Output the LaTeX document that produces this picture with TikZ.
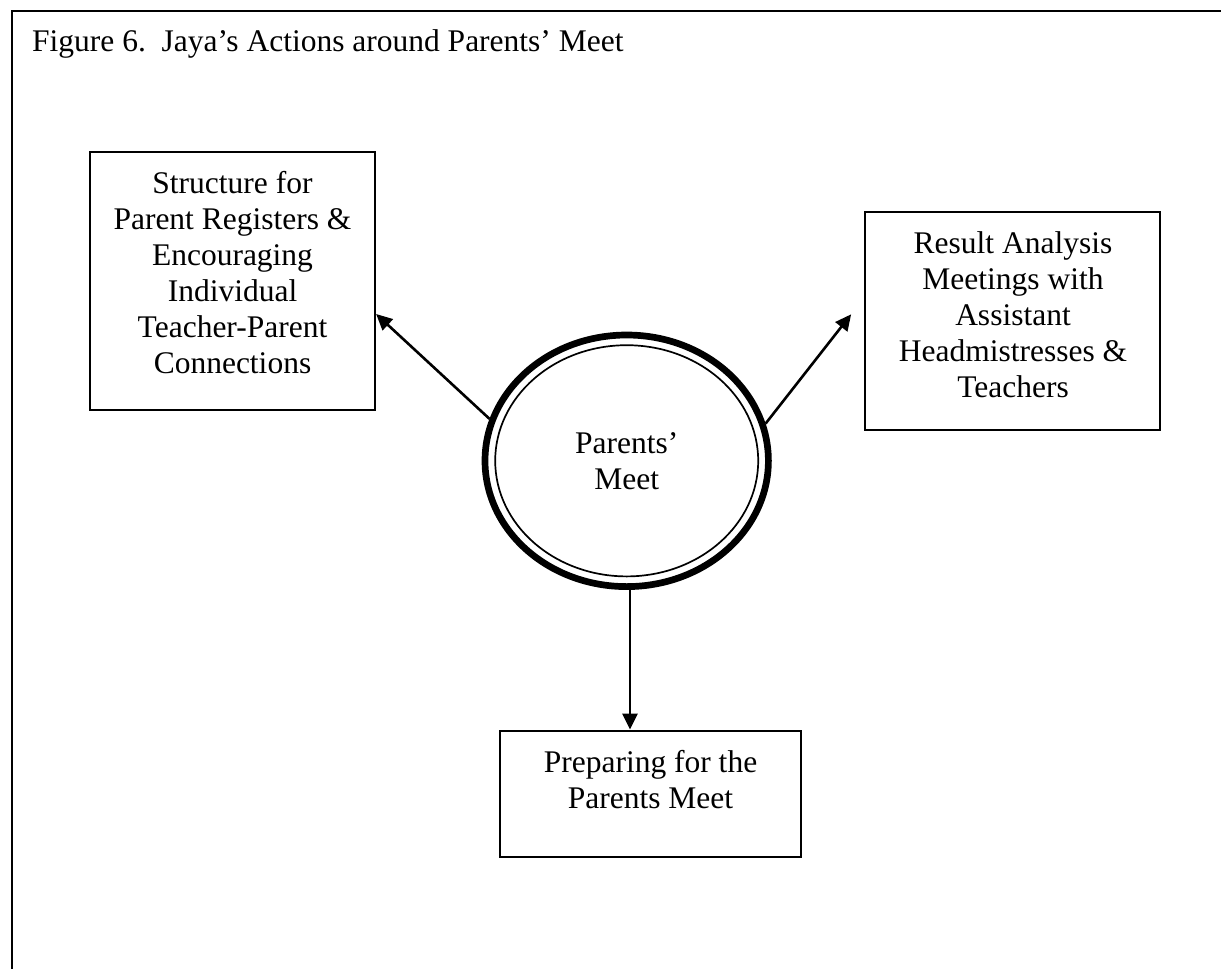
\documentclass[tikz,border=0pt]{standalone}
\usepackage{fontspec}
\setmainfont{Liberation Serif}
\usetikzlibrary{shapes.geometric,arrows.meta}
\begin{document}
\begin{tikzpicture}[x=1pt,y=-1pt,
  bodyfont/.style={font=\fontsize{31.5}{36}\selectfont},
  boxshape/.style={draw, rectangle, line width=2.2pt, inner sep=0pt},
  boxtext/.style={bodyfont, align=center, inner sep=0pt},
  link/.style={line width=2.6pt, -{Triangle[length=16pt,width=15pt]}},
]
% page and the open frame (top and left sides only)
\useasboundingbox[fill=white] (0,0) rectangle (1221,969);
\draw[line width=2.7pt] (12,990) -- (12,11) -- (1240,11);

% caption
\node[bodyfont, anchor=base west, inner sep=0pt] (title) at (32,51)
  {Figure 6.\ \ Jaya’s Actions around Parents’ Meet};

% central double-ringed ellipse
\node[draw, ellipse, line width=6.7pt, minimum width=283.4pt, minimum height=251.6pt,
      inner sep=0pt, bodyfont, align=center] (pm) at (626.7,460.8) {Parents’\\Meet};
\draw[line width=1.7pt] (pm.center) ellipse [x radius=131.5pt, y radius=115.6pt];

% left box
\node[boxshape, minimum width=285pt, minimum height=258pt] (lb) at (232.5,281) {};
\node[boxtext] (lbt) at (232.5,273)
  {Structure for\\Parent Registers \&\\Encouraging\\Individual\\Teacher-Parent\\Connections};

% right box
\node[boxshape, minimum width=295pt, minimum height=218pt] (rb) at (1012.5,321) {};
\node[boxtext] (rbt) at (1013,314.4)
  {Result Analysis\\Meetings with\\Assistant\\Headmistresses \&\\Teachers};

% bottom box
\node[boxshape, minimum width=301pt, minimum height=126pt] (pb) at (650.5,793.7) {};
\node[boxtext] (pbt) at (650.5,779.1) {Preparing for the\\Parents Meet};

% connectors
\draw[link] (pm.163) -- ([yshift=-33pt]lb.east);
\draw[link, shorten >=20.7pt] (pm.15.7) -- ([yshift=23pt]rb.west);
\draw[link] ([xshift=3.3pt]pm.south) -- ([xshift=3.3pt]pm.south |- pb.north);
\end{tikzpicture}
\end{document}
